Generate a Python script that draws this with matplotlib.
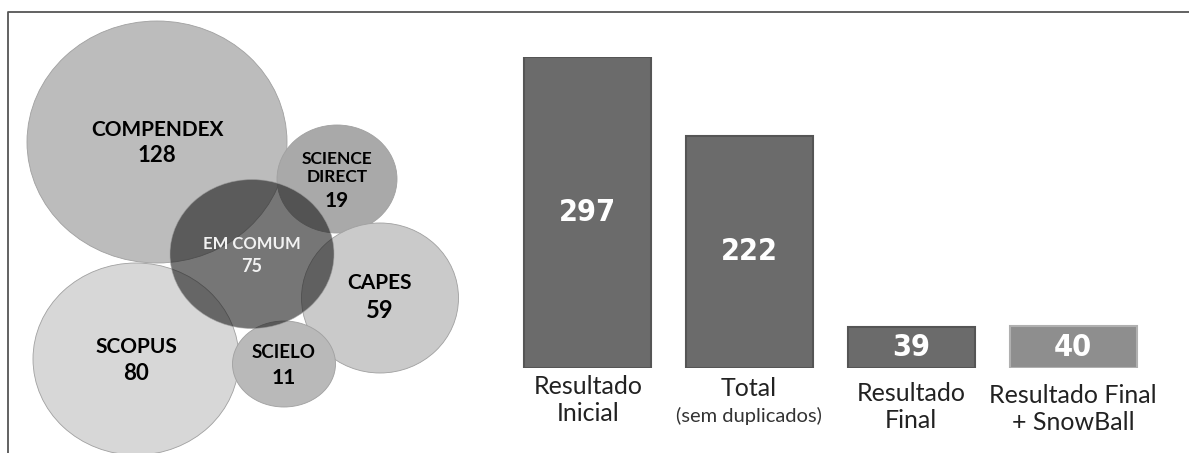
import matplotlib
matplotlib.use('Agg')
from matplotlib import pyplot as plt
from matplotlib.patches import Ellipse

# dados
bases = ['COMPENDEX', 'SCIENCE\nDIRECT', 'CAPES', 'SCOPUS', 'SCIELO', 'EM COMUM']
contagens = [128, 19, 59, 80, 11, 75]
etapas = ['Resultado\nInicial', 'Total', 'Resultado\nFinal', 'Resultado Final\n+ SnowBall']
resultados = [297, 222, 39, 40]

plt.rcParams['font.family'] = ['Lato', 'DejaVu Sans']

fig = plt.figure(figsize=(11.89, 4.53), dpi=100)

# eixo em pixels para as bolhas e a moldura
ax0 = fig.add_axes([0, 0, 1, 1])
ax0.set_xlim(0, 1189)
ax0.set_ylim(453, 0)
ax0.axis('off')

# posicao (cx, cy, largura, altura), cor, fonte nome, fonte numero, y do nome, y do numero
layout = [
    ((157, 142, 260, 242), '#bcbcbc', 15, 16, 130, 156, 'black', 1),
    ((337, 179, 120, 108), '#a9a9a9', 12.5, 15, 168, 201, 'black', 1),
    ((380, 298, 157, 150), '#cacaca', 15, 17, 283, 311, 'black', 1),
    ((136, 359, 206, 192), '#d7d7d7', 15, 16, 347, 373, 'black', 1),
    ((284, 364, 103, 86), '#b9b9b9', 13.5, 15, 352, 378, 'black', 1),
    ((252, 254, 164, 149), '#171717', 12, 13, 244, 266, '#f2f2f2', 0.59),
]

for nome, n, (geo, cor, fs, fsn, yn, yv, tc, a) in zip(bases, contagens, layout):
    cx, cy, w, h = geo
    e = Ellipse((cx, cy), w, h, facecolor=cor, edgecolor='#a0a0a0', lw=0.6, alpha=a, zorder=2)
    ax0.add_patch(e)
    ax0.text(cx, yn, nome, ha='center', va='center', fontsize=fs, fontweight='bold',
             color=tc, linespacing=1.2, zorder=5)
    ax0.text(cx, yv, str(n), ha='center', va='center', fontsize=fsn, fontweight='bold',
             color=tc, zorder=5)

# moldura
ax0.plot([8, 8, 1189], [453, 12, 12], color='#555555', lw=1.3, zorder=6)

# barras
ax1 = fig.add_axes([507 / 1189, (453 - 368) / 453, 647 / 1189, 311 / 453])
ax1.set_xlim(-0.5, 3.5)
ax1.set_ylim(0, 297)
ax1.axis('off')
cores = ['#6b6b6b', '#6b6b6b', '#6b6b6b', '#8e8e8e']
bordas = ['#555555', '#555555', '#555555', '#b0b0b0']
barras = ax1.bar(range(len(resultados)), resultados, width=0.785, color=cores,
                 edgecolor=bordas, linewidth=1.5)
for b, v in zip(barras, resultados):
    ax1.text(b.get_x() + b.get_width() / 2, v / 2, str(v), ha='center', va='center',
             fontsize=22, fontweight='bold', color='white',
             family='DejaVu Sans', fontstretch='condensed')

# rotulos das etapas
xs = [588, 749, 911, 1073]
ys = [400, 388, 407, 409]
for x, y, t in zip(xs, ys, etapas):
    ax0.text(x, y, t, ha='center', va='center', fontsize=18, color='#222222', linespacing=1.2)
ax0.text(xs[1], 416, '(sem duplicados)', ha='center', va='center', fontsize=14.5, color='#333333')

fig.savefig('out.png', dpi=100)
